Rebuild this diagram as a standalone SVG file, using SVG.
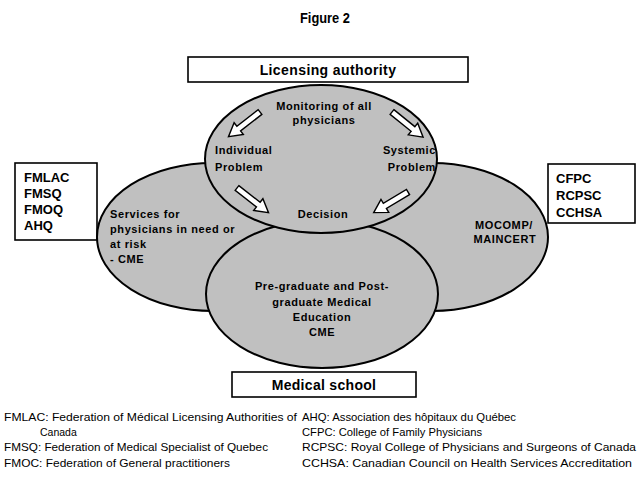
<svg xmlns="http://www.w3.org/2000/svg" width="640" height="477" viewBox="0 0 640 477">
<style>
.bg{fill:#fff}
.ell{fill:#c0c0c0;stroke:#000;stroke-width:2}
.box{fill:#fff;stroke:#000;stroke-width:1.6}
.t{font-family:"Liberation Sans",Arial,sans-serif;font-weight:bold;font-size:11px;letter-spacing:0.6px;fill:#000}
.tb{font-family:"Liberation Sans",Arial,sans-serif;font-weight:bold;font-size:13px;fill:#000}
.th{font-family:"Liberation Sans",Arial,sans-serif;font-weight:bold;font-size:14px;fill:#000}
.lg{font-family:"Liberation Sans",Arial,sans-serif;font-size:10.5px;fill:#000}
.arr{fill:#fff;stroke:#000;stroke-width:1.4;stroke-linejoin:miter}
</style>
<defs>
<path id="blk" d="M0,-3 L27,-3 L27,-7.5 L40,0 L27,7.5 L27,3 L0,3 Z"/>
</defs>
<rect class="bg" x="0" y="0" width="640" height="477"/>
<text class="th" x="300" y="23" textLength="50" lengthAdjust="spacingAndGlyphs">Figure 2</text>

<g id="licensing-authority">
<rect class="box" x="188" y="57" width="280" height="25"/>
<text class="th" x="328" y="75" text-anchor="middle" letter-spacing="0.4">Licensing authority</text>
</g>

<g id="left-group">
<rect class="box" x="15" y="163" width="82" height="77"/>
<text class="tb" x="24" y="182">FMLAC</text>
<text class="tb" x="24" y="198">FMSQ</text>
<text class="tb" x="24" y="214">FMOQ</text>
<text class="tb" x="24" y="230">AHQ</text>
</g>

<g id="right-group">
<rect class="box" x="548" y="164" width="87" height="59"/>
<text class="tb" x="556" y="183">CFPC</text>
<text class="tb" x="556" y="200">RCPSC</text>
<text class="tb" x="556" y="217">CCHSA</text>
</g>

<g id="left-ellipse">
<ellipse class="ell" cx="213" cy="237" rx="116" ry="74"/>
<text class="t" x="110" y="218">Services for</text>
<text class="t" x="110" y="233">physicians in need or</text>
<text class="t" x="110" y="248">at risk</text>
<text class="t" x="110" y="263">- CME</text>
</g>

<g id="right-ellipse">
<ellipse class="ell" cx="432" cy="237" rx="116" ry="74"/>
<text class="t" x="504" y="229" text-anchor="middle">MOCOMP/</text>
<text class="t" x="505" y="243" text-anchor="middle">MAINCERT</text>
</g>

<g id="bottom-ellipse">
<ellipse class="ell" cx="322" cy="294" rx="116" ry="74"/>
<text class="t" x="322" y="290" text-anchor="middle">Pre-graduate and Post-</text>
<text class="t" x="322" y="306" text-anchor="middle">graduate Medical</text>
<text class="t" x="322" y="321" text-anchor="middle">Education</text>
<text class="t" x="322" y="336" text-anchor="middle">CME</text>
</g>

<g id="top-ellipse">
<ellipse class="ell" cx="321" cy="159" rx="116" ry="74"/>
<text class="t" x="324" y="110" text-anchor="middle">Monitoring of all</text>
<text class="t" x="324" y="124" text-anchor="middle">physicians</text>
<text class="t" x="215" y="154">Individual</text>
<text class="t" x="215" y="171">Problem</text>
<text class="t" x="436" y="154" text-anchor="end">Systemic</text>
<text class="t" x="436" y="171" text-anchor="end">Problem</text>
<text class="t" x="323" y="218" text-anchor="middle">Decision</text>
</g>

<g id="connectors">
<use href="#blk" class="arr" transform="translate(260,112) rotate(142)"/>
<use href="#blk" class="arr" transform="translate(392,112) rotate(39)"/>
<use href="#blk" class="arr" transform="translate(237,188) rotate(38)"/>
<use href="#blk" class="arr" transform="translate(408,192) rotate(149)"/>
</g>

<g id="medical-school">
<rect class="box" x="232" y="372" width="184" height="25"/>
<text class="th" x="324" y="390" text-anchor="middle" letter-spacing="0.3">Medical school</text>
</g>

<g id="legend">
<text class="lg" x="4" y="421" textLength="293" lengthAdjust="spacingAndGlyphs">FMLAC: Federation of Médical Licensing Authorities of</text>
<text class="lg" x="40" y="436">Canada</text>
<text class="lg" x="4" y="451" textLength="264" lengthAdjust="spacingAndGlyphs">FMSQ: Federation of Medical Specialist of Quebec</text>
<text class="lg" x="4" y="467" textLength="226" lengthAdjust="spacingAndGlyphs">FMOC: Federation of General practitioners</text>
<text class="lg" x="302" y="421" textLength="214" lengthAdjust="spacingAndGlyphs">AHQ: Association des hôpitaux du Québec</text>
<text class="lg" x="302" y="436" textLength="180" lengthAdjust="spacingAndGlyphs">CFPC: College of Family Physicians</text>
<text class="lg" x="302" y="451" textLength="334" lengthAdjust="spacingAndGlyphs">RCPSC: Royal College of Physicians and Surgeons of Canada</text>
<text class="lg" x="302" y="467" textLength="330" lengthAdjust="spacingAndGlyphs">CCHSA: Canadian Council on Health Services Accreditation</text>
</g>
</svg>
